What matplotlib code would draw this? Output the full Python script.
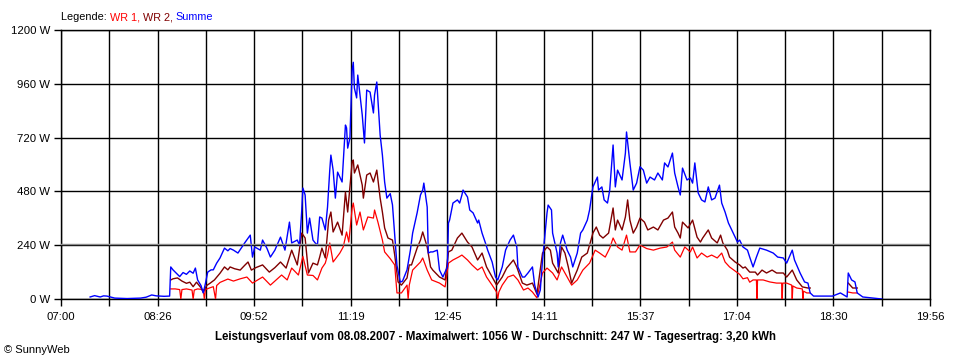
import numpy as np
import matplotlib.pyplot as plt

# time axis: minutes after 07:00, power in W
t_sum = [26, 30, 35, 38, 41, 45, 48, 53, 59, 65, 71, 76, 81, 85, 88, 92, 97,
         98, 100, 103, 106, 109, 112, 115, 118, 120, 122, 125, 127, 129, 131, 134, 136,
         139, 142, 146, 149, 151, 154, 158, 162, 164, 169, 171, 173, 178, 180, 184, 187,
         191, 196, 200, 204, 206, 211, 213, 215, 216, 218, 220, 222, 225, 227, 229, 231,
         233, 236, 238, 240, 241, 243, 245, 247, 251, 254, 255, 256, 258, 260, 261, 262,
         264, 265, 269, 271, 273, 276, 279, 280, 282, 285, 287, 289, 291, 294, 296, 300,
         303, 305, 309, 312, 314, 318, 321, 323, 324, 327, 328, 330, 332, 336, 338, 341,
         345, 346, 347, 350, 354, 356, 358, 359, 363, 365, 368, 372, 373, 376, 379, 381,
         385, 388, 390, 394, 397, 401, 404, 407, 408, 412, 414, 417, 421, 423, 426, 428,
         430, 434, 435, 438, 439, 443, 444, 446, 448, 452, 455, 457, 461, 464, 466, 470,
         472, 475, 479, 480, 483, 485, 488, 490, 493, 495, 497, 501, 504, 505, 508, 511,
         514, 517, 520, 523, 526, 530, 533, 537, 539, 542, 546, 548, 551, 553, 555, 559,
         562, 564, 566, 569, 572, 575, 578, 581, 584, 588, 590, 593, 596, 599, 602, 604,
         606, 609, 613, 615, 618, 621, 624, 630, 636, 640, 645, 648, 653, 655, 660, 664,
         667, 669, 672, 680, 689, 696, 702, 703, 706, 709, 711, 716, 725, 733]
p_sum = [9, 15, 9, 14, 13, 8, 4, 3, 2, 3, 4, 8, 18, 14, 13, 12, 13,
         143, 130, 115, 100, 118, 110, 125, 115, 138, 85, 60, 27, 70, 120, 130, 130,
         160, 183, 227, 215, 225, 218, 205, 235, 250, 285, 187, 232, 218, 263, 225, 187,
         218, 276, 218, 343, 250, 263, 240, 397, 495, 464, 294, 361, 263, 250, 241, 366,
         361, 308, 410, 575, 642, 575, 450, 566, 522, 776, 763, 673, 718, 1021, 1056, 941,
         897, 999, 821, 696, 932, 923, 830, 910, 968, 731, 642, 522, 450, 470, 420, 150,
         75, 80, 130, 218, 294, 384, 464, 486, 517, 410, 205, 210, 210, 218, 129, 98,
         143, 339, 352, 428, 442, 428, 464, 486, 455, 397, 384, 339, 352, 294, 250, 218,
         165, 98, 85, 143, 218, 263, 285, 232, 143, 98, 98, 116, 143, 62, 9, 40,
         174, 384, 419, 397, 294, 205, 143, 250, 285, 218, 187, 143, 205, 294, 308, 352,
         397, 500, 544, 486, 500, 442, 428, 486, 687, 500, 575, 531, 651, 745, 607, 486,
         517, 590, 575, 517, 544, 531, 562, 531, 607, 589, 651, 562, 500, 464, 584, 531,
         540, 517, 607, 473, 442, 433, 500, 442, 450, 508, 428, 388, 339, 308, 276, 254,
         263, 232, 218, 187, 143, 187, 227, 218, 205, 187, 183, 160, 218, 174, 116, 76,
         71, 27, 13, 13, 13, 27, 9, 116, 85, 76, 27, 9, 4, 0]

t_wr2 = [98, 100, 104, 108, 112, 115, 118, 121, 125, 127, 130, 133, 137, 142, 146, 149,
         151, 155, 160, 164, 167, 170, 174, 180, 186, 191, 196, 201, 206, 211, 215, 218,
         221, 225, 229, 231, 233, 236, 239, 241, 243, 247, 251, 254, 256, 260, 261, 262,
         265, 269, 270, 273, 276, 279, 282, 285, 287, 289, 292, 296, 298, 301, 304, 309,
         311, 313, 318, 321, 323, 327, 330, 332, 338, 343, 346, 349, 354, 358, 363, 367,
         372, 376, 380, 385, 389, 394, 398, 404, 407, 412, 416, 421, 425, 430, 434, 437,
         439, 444, 447, 450, 453, 456, 461, 465, 470, 472, 475, 478, 481, 484, 489, 493,
         495, 497, 501, 504, 506, 508, 511, 514, 517, 521, 524, 529, 533, 538, 542, 546,
         548, 551, 553, 555, 560, 564, 568, 571, 573, 578, 581, 586, 589, 591, 595, 597,
         602, 606, 609, 611, 615, 620, 622, 626, 630, 635, 639, 645, 648, 653, 657, 662,
         667, 669, np.nan, 703, 707, 711]
p_wr2 = [85, 90, 94, 80, 70, 75, 55, 75, 50, 30, 60, 70, 85, 115, 143, 130,
         143, 135, 129, 150, 165, 129, 140, 152, 120, 140, 165, 138, 218, 152, 294, 272,
         116, 160, 152, 187, 227, 183, 352, 388, 299, 343, 285, 477, 388, 611, 620, 562,
         598, 508, 450, 553, 562, 522, 575, 450, 388, 317, 272, 263, 196, 76, 62, 94,
         152, 152, 227, 263, 299, 232, 143, 129, 98, 85, 210, 218, 272, 294, 254, 232,
         174, 205, 143, 98, 62, 98, 138, 174, 143, 71, 62, 71, 22, 205, 232, 218,
         160, 116, 232, 205, 143, 71, 129, 187, 205, 241, 294, 321, 285, 272, 294, 406,
         308, 352, 308, 366, 442, 352, 294, 321, 361, 343, 308, 321, 308, 352, 361, 388,
         321, 294, 272, 343, 317, 352, 276, 254, 272, 308, 272, 250, 285, 250, 218, 187,
         165, 152, 138, 143, 120, 120, 107, 129, 116, 129, 116, 116, 98, 129, 85, 54,
         49, 49, np.nan, 71, 49, 49]

t_wr1 = [98, 102, 106, 107, 108, 112, 117, 118, 119, 122, 127, 128, 129, 133, 136, 138,
         139, 142, 149, 154, 160, 166, 171, 180, 187, 197, 202, 206, 212, 216, 220, 225,
         229, 233, 236, 238, 240, 243, 249, 252, 255, 257, 260, 261, 264, 267, 270, 274,
         279, 280, 283, 287, 289, 294, 298, 300, 304, 309, 310, 311, 314, 321, 323, 327,
         331, 338, 343, 346, 350, 355, 358, 363, 367, 372, 376, 380, 385, 389, 390, 391,
         394, 399, 404, 408, 413, 417, 421, 425, 430, 434, 439, 443, 447, 452, 456, 461,
         466, 472, 477, 481, 486, 490, 493, 497, 501, 505, 508, 513, 517, 523, 529, 535,
         541, 546, 548, 553, 557, 562, 564, 568, 572, 577, 581, 586, 590, 593, 597, 602,
         606, 609, 613, 615, 618, 621, 621.5, 622, 627, 633, 639, 643.5, 644, 644.5, 648,
         652.5, 653, 653.5, 657, 662, 662.5, 663, 666, 669, np.nan, 703, 707, 711]
p_wr1 = [45, 45, 42, 0, 42, 45, 40, 0, 40, 45, 42, 0, 42, 50, 55, 0,
         60, 74, 89, 80, 90, 98, 71, 98, 62, 107, 85, 138, 107, 190, 107, 105,
         85, 138, 160, 196, 250, 165, 205, 232, 299, 254, 406, 428, 330, 388, 308, 366,
         361, 397, 343, 263, 210, 180, 152, 27, 27, 62, 0, 62, 129, 165, 183, 129,
         85, 71, 54, 160, 174, 187, 196, 174, 152, 129, 143, 98, 62, 31, 0, 31,
         62, 98, 107, 85, 40, 49, 31, 5, 116, 138, 116, 85, 143, 98, 62, 85,
         129, 160, 218, 205, 187, 227, 272, 232, 218, 285, 210, 210, 241, 225, 218, 227,
         232, 254, 218, 187, 232, 210, 232, 183, 205, 187, 196, 183, 205, 165, 143, 125,
         110, 90, 95, 75, 85, 85, 0, 85, 85, 76, 71, 71, 0, 71, 71,
         62, 0, 58, 49, 45, 0, 35, 27, 27, np.nan, 31, 27, 27]

x_labels = ['07:00', '08:26', '09:52', '11:19', '12:45', '14:11', '15:37', '17:04', '18:30', '19:56']
day_minutes = 776
y_ticks = [0, 240, 480, 720, 960, 1200]
y_labels = ['0 W', '240 W', '480 W', '720 W', '960 W', '1200 W']
avg_w = 247
title = ('Leistungsverlauf vom 08.08.2007 - Maximalwert: 1056 W - '
         'Durchschnitt: 247 W - Tagesertrag: 3,20 kWh')

plt.rcParams['font.family'] = ['Liberation Sans', 'DejaVu Sans']

fig = plt.figure(figsize=(9.6, 3.6), dpi=100)
ax = fig.add_axes([61 / 960, 61 / 360, 869 / 960, 269 / 360])

ax.plot(t_wr1, p_wr1, color='#ff0000', lw=0.9, zorder=3)
ax.plot(t_wr2, p_wr2, color='#800000', lw=1.0, zorder=4)
ax.plot(t_sum, p_sum, color='#0000ff', lw=1.0, zorder=5)
ax.axhline(avg_w, color='#8c8c8c', lw=1, zorder=6)

ax.set_xlim(0, day_minutes)
ax.set_ylim(0, 1200)
ax.set_xticks(np.linspace(0, day_minutes, len(x_labels)))
ax.set_xticklabels(x_labels)
ax.set_xticks(np.linspace(0, day_minutes, 2 * len(x_labels) - 1), minor=True)
ax.set_yticks(y_ticks)
ax.set_yticklabels(y_labels)

ax.xaxis.grid(True, which='both', color='black', lw=1)
ax.yaxis.grid(True, which='major', color='black', lw=1)
ax.set_axisbelow(False)
for s in ax.spines.values():
    s.set_color('black')
    s.set_linewidth(1)
ax.tick_params(axis='both', which='both', direction='out', length=5, width=1,
               labelsize=8.2, colors='black', pad=3)
ax.tick_params(axis='x', which='major', pad=4)

fig.text(495.5 / 960, 1 - 337 / 360, title, ha='center', va='center',
         fontsize=8.3, fontweight='bold')
fig.text(4 / 960, 1 - 350 / 360, '\u00a9 SunnyWeb', ha='left', va='center', fontsize=8)

# legend line: coloured words in a row
t0 = fig.text(61 / 960, 1 - 17 / 360, 'Legende: ', ha='left', va='center', fontsize=7.8)
prev = t0
for word, col in [('WR 1, ', '#ff0000'), ('WR 2, ', '#800000'), ('Summe', '#0000ff')]:
    prev = ax.annotate(word, xycoords=prev, xy=(1, 0), va='bottom', ha='left',
                       fontsize=7.8, color=col)

fig.savefig('out.png', dpi=100)
